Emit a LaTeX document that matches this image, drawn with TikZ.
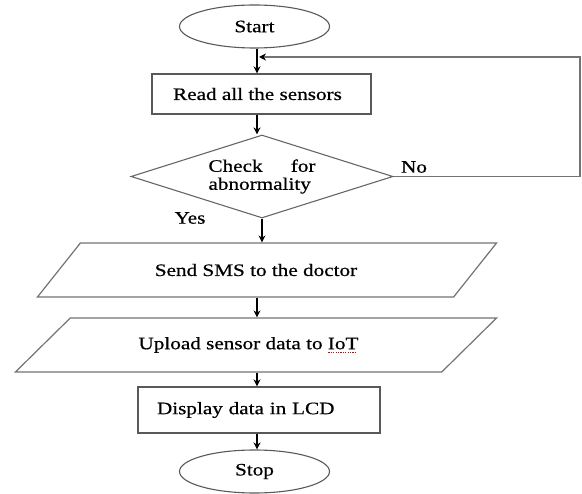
\documentclass[tikz,border=0pt]{standalone}
\usepackage{fontspec}
\setmainfont{Liberation Serif}[FakeStretch=1.21, FakeBold=0.6]
\usetikzlibrary{shapes.geometric, arrows.meta}

\newcommand\redsquiggle[1]{\setbox0\hbox{#1}\rlap{\textcolor{red!85!black}{\raisebox{-3.5pt}{\leaders\hbox to 2.4pt{\hss\rule{1.2pt}{0.9pt}\hss}\hskip\wd0}}}#1}

\begin{document}
\begin{tikzpicture}[x=1pt, y=-1pt,
    terminal/.style={draw=black!65, line width=1.1pt, ellipse, minimum width=150pt, minimum height=43pt, inner sep=0pt},
    block/.style={draw=black!65, line width=1.3pt, inner sep=0pt},
    decision/.style={draw=black!60, line width=1.1pt, diamond, aspect=3.1, minimum width=262pt, minimum height=83pt, inner sep=0pt},
    io/.style={draw=black!55, line width=1.2pt, trapezium, trapezium stretches=true, minimum height=54pt, inner sep=0pt},
    arrow/.style={-{Stealth[length=7pt, width=7pt]}, line width=1.4pt},
    loopback/.style={-{Stealth[length=7pt, width=7pt, color=black]}, draw=black!55, line width=1.9pt},
    font=\fontsize{17.5}{18}\selectfont
]
\useasboundingbox (0,0) rectangle (582,494);

% Terminals and steps
\node[terminal] (start) at (254.5,26.5) {Start};
\node[block, minimum width=219pt, minimum height=40pt] (read) at (261.5,94) {Read all the sensors\hspace*{8pt}};
\node[decision] (check) at (262,176.5) {\parbox{107pt}{Check\hfill for\\abnormality}};
\node[io, trapezium left angle=25.5, trapezium right angle=154.5, minimum width=460pt] (sms) at (267,270) {Send SMS to the doctor\hspace*{22pt}};
\node[io, trapezium left angle=24.6, trapezium right angle=155.4, minimum width=482pt] (upload) at (256,345) {Upload sensor data to \redsquiggle{IoT}\hspace*{15pt}};
\node[block, minimum width=242pt, minimum height=46pt, text width=204pt, inner xsep=19pt, align=left] (display) at (259,410) {Display data in LCD};
\node[terminal] (stop) at (254.5,471.5) {Stop};

% Branch labels
\node (no) at (414,167) {No};
\node (yes) at (190,218) {Yes};
\coordinate (spine) at (257,0);
\coordinate (join) at (259,57);

% Arrows
\draw[arrow] (start.south -| spine) -- (read.north -| spine);
\draw[arrow] (read.south -| spine) -- (check.north -| spine);
\draw[loopback] (check.east) -- ++(186,0) |- (join);
\draw[arrow] (check.south) -- (check.south |- sms.north);
\draw[arrow] (sms.south -| spine) -- (upload.north -| spine);
\draw[arrow] (upload.south -| spine) -- (display.north -| spine);
\draw[arrow] (display.south -| spine) -- (stop.north -| spine);
\end{tikzpicture}
\end{document}
